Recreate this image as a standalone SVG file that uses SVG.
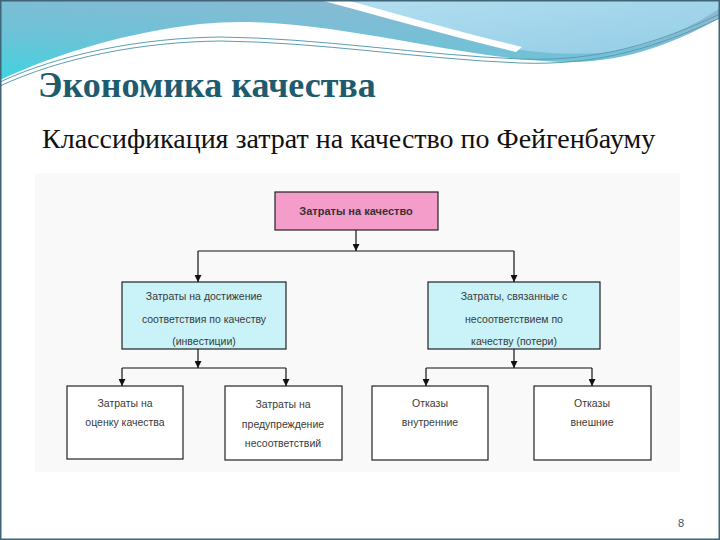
<svg xmlns="http://www.w3.org/2000/svg" width="720" height="540" viewBox="0 0 720 540">
  <defs>
    <linearGradient id="blueBand" x1="0" y1="1" x2="0.55" y2="0">
      <stop offset="0" stop-color="#3fd3df"/>
      <stop offset="0.45" stop-color="#6cc3d8"/>
      <stop offset="1" stop-color="#8ab9d3"/>
    </linearGradient>
    <linearGradient id="lightBand" x1="0" y1="0" x2="1" y2="1">
      <stop offset="0" stop-color="#b3def0"/>
      <stop offset="1" stop-color="#93cde6"/>
    </linearGradient>
    <marker id="arrow" viewBox="0 0 10 10" refX="10" refY="5" markerWidth="7" markerHeight="7" markerUnits="userSpaceOnUse" orient="auto">
      <path d="M0,0 L10,5 L0,10 Z" fill="#111"/>
    </marker>
    <style>
      .title { font-family: "Liberation Serif", "Times New Roman", serif; font-weight: bold; font-size: 36px; fill: #1e5b6f; }
      .subtitle { font-family: "Liberation Serif", "Times New Roman", serif; font-size: 28px; fill: #111; }
      .box { stroke: #222; stroke-width: 1.2; }
      .pink { fill: #f49cca; }
      .cyan { fill: #c9f3f8; }
      .white { fill: #ffffff; }
      .lbl { font-family: "Liberation Sans", Arial, sans-serif; font-size: 10.5px; fill: #3a3a3a; text-anchor: middle; }
      .lblb { font-family: "Liberation Sans", Arial, sans-serif; font-size: 11px; font-weight: bold; fill: #333; text-anchor: middle; }
      .conn { fill: none; stroke: #111; stroke-width: 1.2; }
      .wave { fill: none; stroke: #5c9db2; stroke-width: 1; }
    </style>
  </defs>

  <!-- slide background -->
  <rect x="0" y="0" width="720" height="540" fill="#ffffff"/>
  <g id="banner">
    <path d="M0,0 H720 V18 C680,40 630,62 570,62 C500,62 420,42 330,29 C280,22 240,20 200,24 C130,32 60,52 0,80 Z" fill="url(#blueBand)"/>
    <path d="M345,0 L720,0 L720,8 C690,28 650,48 600,53 C560,55 530,52 512,48 C450,32 390,14 345,0 Z" fill="url(#lightBand)"/>
    <path d="M320,0 L346,0 C400,15 460,32 522,47 L516,52 C450,36 380,16 320,0 Z" fill="#ffffff"/>
    <path d="M720,20 C690,40 650,58 600,64 L640,64 C670,54 700,40 720,30 Z" fill="#ffffff" opacity="0.7"/>
    <path class="wave" d="M0,82 C60,54 140,38 220,37 C320,38 420,55 520,59 C600,62 660,42 720,14"/>
    <path class="wave" d="M0,86 C60,58 140,42 220,41 C320,42 420,59 520,63 C600,66 660,46 720,18" stroke="#7fb8c8"/>
  </g>
  <rect x="0.75" y="0.75" width="718.5" height="538.5" fill="none" stroke="#3f6577" stroke-width="1.5"/>

  <text class="title" x="38" y="97">Экономика качества</text>
  <text class="subtitle" x="42" y="148">Классификация затрат на качество по Фейгенбауму</text>

  <!-- diagram panel -->
  <rect x="35" y="173" width="645" height="299" fill="#f9f9f9"/>

  <g id="connectors">
    <path class="conn" d="M356,230 V251" marker-end="url(#arrow)"/>
    <path class="conn" d="M198,251 H514"/>
    <path class="conn" d="M198,251 V282" marker-end="url(#arrow)"/>
    <path class="conn" d="M514,251 V282" marker-end="url(#arrow)"/>
    <path class="conn" d="M198,349 V368" marker-end="url(#arrow)"/>
    <path class="conn" d="M122,368 H286"/>
    <path class="conn" d="M122,368 V386" marker-end="url(#arrow)"/>
    <path class="conn" d="M286,368 V386" marker-end="url(#arrow)"/>
    <path class="conn" d="M514,349 V368" marker-end="url(#arrow)"/>
    <path class="conn" d="M426,368 H592"/>
    <path class="conn" d="M426,368 V386" marker-end="url(#arrow)"/>
    <path class="conn" d="M592,368 V386" marker-end="url(#arrow)"/>
  </g>

  <g id="node-total">
    <rect class="box pink" x="275" y="192" width="163" height="38"/>
    <text class="lblb" x="356" y="215">Затраты на качество</text>
  </g>

  <g id="node-conformance">
    <rect class="box cyan" x="122" y="282" width="164" height="67"/>
    <text class="lbl" x="204" y="300">Затраты на достижение</text>
    <text class="lbl" x="204" y="323">соответствия по качеству</text>
    <text class="lbl" x="204" y="345">(инвестиции)</text>
  </g>

  <g id="node-nonconformance">
    <rect class="box cyan" x="428" y="282" width="172" height="67"/>
    <text class="lbl" x="514" y="300">Затраты, связанные с</text>
    <text class="lbl" x="514" y="323">несоответствием по</text>
    <text class="lbl" x="514" y="345">качеству (потери)</text>
  </g>

  <g id="node-appraisal">
    <rect class="box white" x="67" y="386" width="116" height="73"/>
    <text class="lbl" x="125" y="407">Затраты на</text>
    <text class="lbl" x="125" y="426">оценку качества</text>
  </g>

  <g id="node-prevention">
    <rect class="box white" x="225" y="386" width="117" height="74"/>
    <text class="lbl" x="283" y="408">Затраты на</text>
    <text class="lbl" x="283" y="428">предупреждение</text>
    <text class="lbl" x="283" y="447">несоответствий</text>
  </g>

  <g id="node-internal">
    <rect class="box white" x="372" y="386" width="116" height="74"/>
    <text class="lbl" x="430" y="407">Отказы</text>
    <text class="lbl" x="430" y="426">внутренние</text>
  </g>

  <g id="node-external">
    <rect class="box white" x="534" y="386" width="117" height="74"/>
    <text class="lbl" x="592" y="407">Отказы</text>
    <text class="lbl" x="592" y="426">внешние</text>
  </g>

  <text x="681" y="527" font-family="Liberation Sans, Arial, sans-serif" font-size="11" fill="#3a5262" text-anchor="middle">8</text>
</svg>
